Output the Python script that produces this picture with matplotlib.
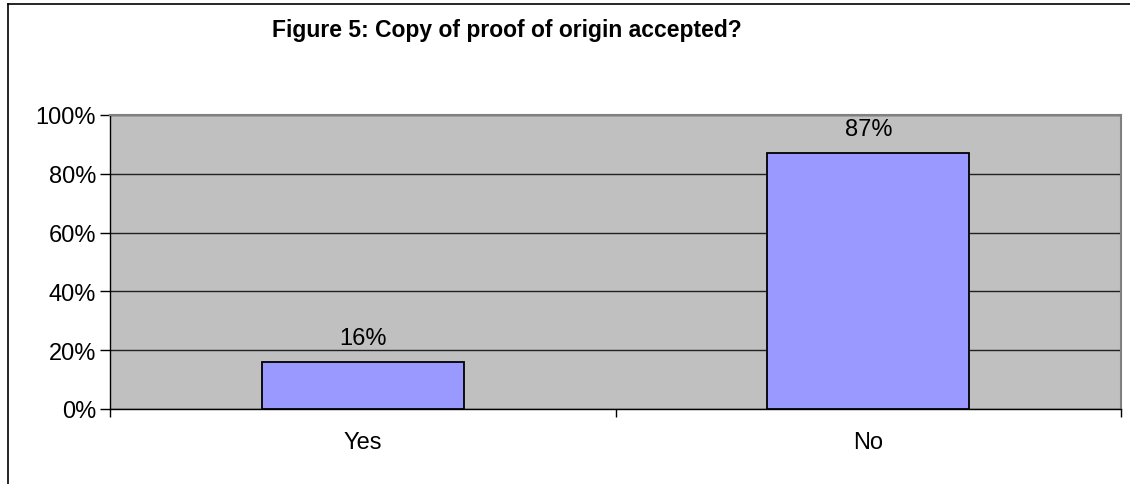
import matplotlib.pyplot as plt
from matplotlib.ticker import FuncFormatter
from matplotlib.lines import Line2D

plt.rcParams['font.family'] = ['Liberation Sans', 'DejaVu Sans']

categories = ["Yes", "No"]
values = [0.16, 0.87]
value_labels = ["16%", "87%"]
y_ticks = [0.0, 0.2, 0.4, 0.6, 0.8, 1.0]
title = "Figure 5: Copy of proof of origin accepted?"

fig = plt.figure(figsize=(11.3, 4.85), dpi=100)
W, H = 1130, 485
# plot area in pixels: left 110, right 1121, top 116, bottom 410
ax = fig.add_axes([110 / W, 1 - 410 / H, (1121 - 110) / W, (410 - 116) / H])
ax.set_facecolor('#C0C0C0')

x = list(range(len(categories)))
ax.bar(x, values, width=0.4, color='#9999FF', edgecolor='black', linewidth=1.3, zorder=3)
for xi, v, lab in zip(x, values, value_labels):
    ax.text(xi, v + 0.062, lab, ha='center', va='baseline', fontsize=17, zorder=4)

ax.set_xlim(-0.5, len(categories) - 0.5)
ax.set_ylim(0, 1.0)
ax.set_yticks(y_ticks)
ax.yaxis.set_major_formatter(FuncFormatter(lambda v, p: f"{v * 100:.0f}%"))
ax.set_xticks(x)
ax.set_xticklabels(categories)
ax.set_xticks([-0.5, 0.5, 1.5], minor=True)
ax.tick_params(axis='x', which='major', length=0, labelsize=17, pad=16)
ax.tick_params(axis='x', which='minor', length=6, width=1, direction='out')
ax.tick_params(axis='y', length=7, width=1, direction='out', labelsize=17, pad=3)

ax.yaxis.grid(True, color='#202020', linewidth=1.0, zorder=1)
ax.set_axisbelow(True)
for side in ['top', 'right']:
    ax.spines[side].set_color('#808080')
    ax.spines[side].set_linewidth(1.5)
for side in ['left', 'bottom']:
    ax.spines[side].set_color('black')
    ax.spines[side].set_linewidth(1.0)

fig.text(507 / W, 1 - 31 / H, title, ha='center', va='center', fontsize=16.5, fontweight='bold')

# outer chart border (left and top edges visible)
fig.add_artist(Line2D([8 / W, 8 / W], [0, 1 - 5 / H], transform=fig.transFigure, color='black', linewidth=1.2))
fig.add_artist(Line2D([8 / W, 1], [1 - 5 / H, 1 - 5 / H], transform=fig.transFigure, color='black', linewidth=1.2))

fig.savefig("out.png", dpi=100)
